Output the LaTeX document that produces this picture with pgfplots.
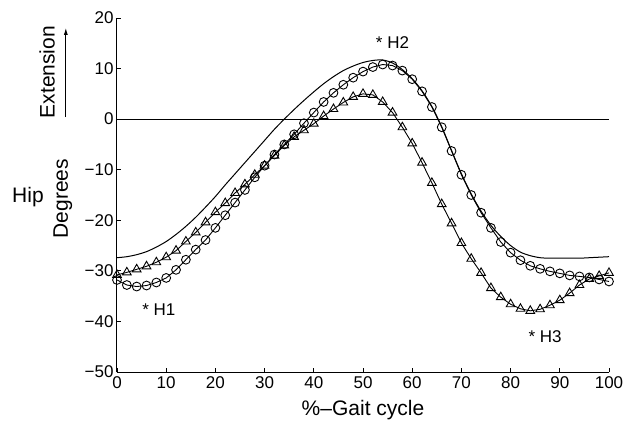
\documentclass[border=0pt]{standalone}
\usepackage{fontspec}
\setmainfont{Liberation Sans}
\usepackage{pgfplots}
\usepackage{pgfplotstable}
\usetikzlibrary{arrows.meta}
\pgfplotsset{compat=1.18}

% normal hip curve (solid) and two subjects
\pgfplotstableread{
x y
0 -27.4
2 -27.2
4 -26.8
6 -26.2
8 -25.3
10 -24.2
12 -22.8
14 -21.2
16 -19.4
18 -17.4
20 -15.3
22 -13.0
24 -10.8
26 -8.6
28 -6.4
30 -4.2
32 -2.0
34 0.0
36 1.9
38 3.7
40 5.4
42 7.0
44 8.4
46 9.6
48 10.5
50 11.2
52 11.6
54 11.7
56 11.1
58 9.8
60 8.0
62 5.6
64 2.5
66 -1.5
68 -6.2
70 -10.8
72 -14.8
74 -18.2
76 -21.0
78 -23.2
80 -25.0
82 -26.3
84 -27.0
86 -27.4
88 -27.5
90 -27.5
92 -27.5
94 -27.5
96 -27.4
98 -27.3
100 -27.2
}\normaldata

\pgfplotstableread{
x y
0 -31.8
2 -32.8
4 -33.1
6 -32.9
8 -32.3
10 -31.4
12 -29.8
14 -27.8
16 -25.8
18 -23.9
20 -21.5
22 -19.0
24 -16.5
26 -14.0
28 -11.5
30 -9.2
32 -7.0
34 -5.0
36 -3.0
38 -0.8
40 1.3
42 3.4
44 5.2
46 6.8
48 8.2
50 9.4
52 10.3
54 10.8
56 10.6
58 9.6
60 7.9
62 5.5
64 2.4
66 -1.6
68 -6.3
70 -11.0
72 -15.0
74 -18.5
76 -21.5
78 -24.3
80 -26.4
82 -27.9
84 -29.0
86 -29.6
88 -30.1
90 -30.5
92 -30.9
94 -31.1
96 -31.3
98 -31.7
100 -32.1
}\circdata

\pgfplotstableread{
x y
0 -30.8
2 -30.3
4 -29.7
6 -29.1
8 -28.3
10 -27.3
12 -26.0
14 -24.2
16 -22.4
18 -20.4
20 -18.4
22 -16.6
24 -14.6
26 -12.9
28 -11.0
30 -9.2
32 -7.2
34 -5.2
36 -3.5
38 -2.2
40 -0.9
42 0.6
44 2.0
46 3.3
48 4.4
50 5.0
52 4.8
54 3.4
56 1.3
58 -1.6
60 -4.8
62 -8.6
64 -12.6
66 -16.8
68 -20.6
70 -24.5
72 -27.6
74 -30.4
76 -33.4
78 -35.2
80 -36.6
82 -37.5
84 -37.9
86 -37.6
88 -36.8
90 -35.8
92 -34.4
94 -32.8
96 -31.6
98 -31.0
100 -30.4
}\tridata

\begin{document}
\begin{tikzpicture}
\useasboundingbox (-117pt,-53pt) rectangle (506pt,372pt);
\begin{axis}[
    scale only axis,
    width=492pt, height=354pt,
    xmin=0, xmax=100, ymin=-50, ymax=20,
    axis lines=left,
    axis line style={-, line width=1pt},
    tick align=inside,
    major tick length=4pt,
    tick style={line width=0.9pt, black},
    xtick={0,10,...,100},
    ytick={-50,-40,...,20},
    yticklabels={−50,−40,−30,−20,−10,0,10,20},
    xticklabels={0,10,20,30,40,50,60,70,80,90,100},
    ticklabel style={font=\fontsize{17}{20}\selectfont},
    xticklabel style={yshift=-1pt},
    clip=false,
]
\addplot[black, line width=1pt] coordinates {(0,0) (100,0)};
\addplot[black, line width=1pt, smooth] table[x=x,y=y] {\normaldata};
\addplot[black, line width=0.9pt, mark=o, mark size=4.4pt,
    mark options={fill=white, line width=0.9pt}] table[x=x,y=y] {\circdata};
\addplot[black, line width=0.9pt, mark=triangle, mark size=5pt,
    mark options={fill=white, line width=0.9pt}] table[x=x,y=y] {\tridata};

\node[font=\fontsize{17}{20}\selectfont] at (axis cs:8.5,-37.7) {* H1};
\node[font=\fontsize{17}{20}\selectfont] at (axis cs:56,15.2) {* H2};
\node[font=\fontsize{17}{20}\selectfont] at (axis cs:87,-43) {* H3};

\node[font=\fontsize{21}{24}\selectfont] at (axis description cs:0.5,-0.107) {\%–Gait cycle};
\node[font=\fontsize{21}{24}\selectfont, rotate=90] at (axis description cs:-0.110,0.49) {Degrees};
\node[font=\fontsize{21}{24}\selectfont] at (axis description cs:-0.181,0.494) {Hip};
\node[font=\fontsize{21}{24}\selectfont, rotate=90] at (axis description cs:-0.142,0.847) {Extension};
\draw[-{Latex[length=7pt,width=4pt]}, line width=0.9pt]
    (axis description cs:-0.104,0.72) -- (axis description cs:-0.104,0.972);
\end{axis}
\end{tikzpicture}
\end{document}
